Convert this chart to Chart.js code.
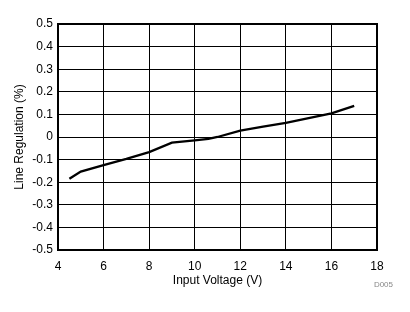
<!DOCTYPE html>
<html>
<head>
<meta charset="utf-8">
<script src="https://cdn.jsdelivr.net/npm/chart.js@4"></script>
<style>
  html, body { margin: 0; padding: 0; background: #fff; }
  #wrap { position: relative; width: 410px; height: 312px; }
</style>
</head>
<body>
<div id="wrap"><canvas id="chart" width="410" height="312"></canvas></div>
<script>
// values
const inputVoltage = [4.5, 5, 6, 7, 8, 9, 10, 10.6, 11, 12, 13, 14, 15, 16, 17];
const lineRegulation = [-0.185, -0.153, -0.124, -0.097, -0.067, -0.025, -0.015, -0.008, 0.0, 0.028, 0.046, 0.063, 0.083, 0.105, 0.138];
const xTitle = 'Input Voltage (V)';
const yTitle = 'Line Regulation (%)';
const docCode = 'D005';

const font = { family: 'Arial, "Liberation Sans", sans-serif', size: 12 };

// frame around the plot + the small code at bottom right
const framePlugin = {
  id: 'frame',
  afterDraw(chart) {
    const ctx = chart.ctx, a = chart.chartArea;
    ctx.save();
    ctx.strokeStyle = '#000';
    ctx.lineWidth = 2;
    ctx.strokeRect(a.left, a.top, a.right - a.left, a.bottom - a.top);
    ctx.fillStyle = '#888';
    ctx.font = '8px Arial, "Liberation Sans", sans-serif';
    ctx.textAlign = 'right';
    ctx.textBaseline = 'middle';
    ctx.fillText(docCode, 393, 285);
    ctx.restore();
  }
};

new Chart(document.getElementById('chart'), {
  type: 'line',
  data: {
    datasets: [{
      data: inputVoltage.map((v, i) => ({ x: v, y: lineRegulation[i] })),
      borderColor: '#000',
      borderWidth: 2.3,
      pointRadius: 0,
      tension: 0,
      fill: false
    }]
  },
  options: {
    responsive: false,
    animation: false,
    layout: { padding: { left: 8, right: 33, top: 24, bottom: 20 } },
    plugins: { legend: { display: false }, tooltip: { enabled: false } },
    scales: {
      x: {
        type: 'linear',
        min: 4, max: 18,
        afterFit: s => { s.height = 42; },
        grid: { color: '#000', lineWidth: 1, drawTicks: false },
        border: { display: false },
        ticks: { stepSize: 2, padding: 9, color: '#000', font: font, maxRotation: 0 },
        title: { display: true, text: xTitle, color: '#000', font: font, padding: { top: 3, bottom: 4 } }
      },
      y: {
        min: -0.5, max: 0.5,
        afterFit: s => { s.width = 50; },
        grid: { color: '#000', lineWidth: 1, drawTicks: false },
        border: { display: false },
        ticks: {
          stepSize: 0.1, padding: 5, color: '#000', font: font,
          callback: v => String(Math.round(v * 10) / 10)
        },
        title: { display: true, text: yTitle, color: '#000', font: font, padding: { top: 4, bottom: 4 } }
      }
    }
  },
  plugins: [framePlugin]
});
</script>
</body>
</html>
